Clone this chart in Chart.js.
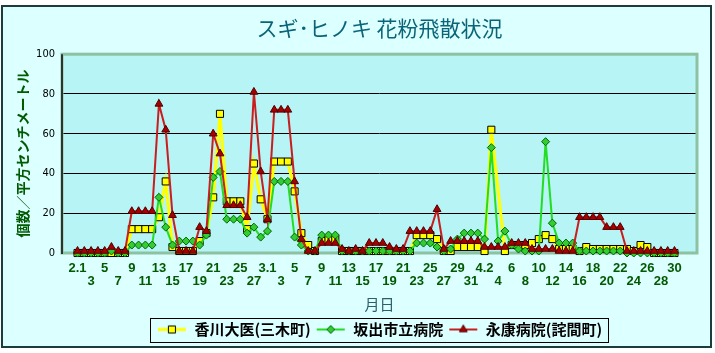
<!DOCTYPE html>
<html lang="ja">
<head>
<meta charset="utf-8">
<title>スギ･ヒノキ 花粉飛散状況</title>
<script src="https://cdn.jsdelivr.net/npm/chart.js@4.4.1/dist/chart.umd.min.js"></script>
<style>
  html, body { margin: 0; padding: 0; background: #fff; }
  #wrap { width: 715px; height: 353px; }
</style>
</head>
<body>
<div id="wrap"><canvas id="pollenChart" width="715" height="353"></canvas></div>
<script>
// --- Data (one value per day, 2/1 .. 4/30) ---
// x-axis labels, one for every second day (alternating upper / lower row)
const tickLabels = [
    '2.1', '3', '5', '7', '9', '11', '13', '15', '17', '19', '21', '23', '25', '27',
    '3.1', '3', '5', '7', '9', '11', '13', '15', '17', '19', '21', '23', '25', '27', '29', '31',
    '4.2', '4', '6', '8', '10', '12', '14', '16', '18', '20', '22', '24', '26', '28', '30'
];

const seriesNames = ['香川大医(三木町)', '坂出市立病院', '永康病院(詫間町)'];

// 香川大医(三木町)
const kagawaValues = [
    0, 0, 0, 0, 0, 0, 0, 0, 12, 12, 12, 12, 18, 36, 3, 1, 1, 1, 6, 10,
    28, 70, 26, 26, 26, 12, 45, 27, 17, 46, 46, 46, 31, 10, 4, 1, 6, 7, 7, 1,
    1, 1, 1, 1, 1, 1, 1, 1, 1, 1, 9, 9, 9, 7, 1, 1, 3, 3, 3, 3,
    1, 62, null, 1, 4, 4, 4, 5, 7, 9, 7, 2, 2, 2, 1, 3, 2, 2, 2, 2,
    2, 2, 1, 4, 3, 0, 0, 0, 0
];

// 坂出市立病院
const sakaideValues = [
    0, 0, 0, 0, 0, 1, 0, 0, 4, 4, 4, 4, 28, 13, 4, 6, 6, 6, 4, 9,
    38, 41, 17, 17, 17, 10, 13, 8, 11, 36, 36, 36, 8, 4, 1, 1, 9, 9, 9, 1,
    1, 1, 1, 1, 1, 1, 1, 1, 1, 1, 5, 5, 5, 3, 1, 2, 7, 10, 10, 10,
    7, 53, 6, 11, 4, 2, 1, 1, 1, 56, 15, 5, 5, 5, 1, 1, 1, 1, 1, 1,
    1, 0, 0, 0, 0, 0, 0, 0, 0
];

// 永康病院(詫間町)
const eikoValues = [
    1, 1, 1, 1, 1, 3, 1, 1, 21, 21, 21, 21, 75, 62, 19, 1, 1, 1, 13, 11,
    60, 50, 24, 24, 24, 18, 81, 41, 17, 72, 72, 72, 36, 7, 1, 1, 5, 5, 5, 2,
    1, 2, 1, 5, 5, 5, 3, 2, 2, 11, 11, 11, 11, 22, 2, 6, 6, 6, 6, 6,
    3, 3, 3, 3, 5, 5, 5, 2, 2, 2, 2, 1, 1, 1, 18, 18, 18, 18, 13, 13,
    13, 1, 1, 1, 1, 1, 1, 1, 1
];

// --- Colours ---
const YELLOW = '#ffff00';
const GREEN_LINE = '#22dd22';
const GREEN_FILL = '#33cc33';
const RED_LINE = '#c81e1e';
const RED_FILL = '#a80000';
const TICK_GREEN = '#005a00';
const TITLE_TEAL = '#0a6478';

const toPoints = values => values.map((v, i) => ({ x: i, y: v }));

/**
 * Small line-with-marker picture used as the legend symbol.
 */
function legendSymbol(lineColor, lineWidth, pointStyle, radius, fill, stroke) {
    const c = document.createElement('canvas');
    c.width = 30;
    c.height = 14;
    const g = c.getContext('2d');
    g.strokeStyle = lineColor;
    g.lineWidth = lineWidth;
    g.beginPath();
    g.moveTo(1, 7);
    g.lineTo(29, 7);
    g.stroke();
    g.fillStyle = fill;
    g.strokeStyle = stroke;
    g.lineWidth = 1;
    Chart.helpers.drawPoint(g, { pointStyle, radius, rotation: 0, borderWidth: 1 }, 15, 7);
    return c;
}

const legendSymbols = [
    legendSymbol(YELLOW, 3, 'rect', 5, YELLOW, '#000000'),
    legendSymbol(GREEN_LINE, 2, 'rectRot', 4, GREEN_FILL, '#006600'),
    legendSymbol(RED_LINE, 2, 'triangle', 4.5, RED_FILL, '#500000')
];

// --- Background, plot frame and legend box ---
const framePlugin = {
    id: 'frame',
    beforeDraw(chart) {
        const { ctx, width, height, chartArea: a } = chart;
        ctx.save();
        ctx.fillStyle = '#ffffff';
        ctx.fillRect(0, 0, width, height);
        ctx.fillStyle = '#dcffff';
        ctx.fillRect(2, 6, 709, 341);
        ctx.strokeStyle = '#1d3d3d';
        ctx.lineWidth = 2;
        ctx.strokeRect(2, 6, 709, 341);
        ctx.fillStyle = '#b6f4f6';
        ctx.fillRect(a.left, a.top, a.right - a.left, a.bottom - a.top);
        ctx.restore();
    },
    beforeDatasetsDraw(chart) {
        const { ctx, chartArea: a } = chart;
        ctx.save();
        ctx.strokeStyle = '#8cc2a2';
        ctx.lineWidth = 3;
        ctx.strokeRect(a.left, a.top, a.right - a.left, a.bottom - a.top);
        ctx.strokeStyle = '#303030';
        ctx.lineWidth = 2;
        ctx.beginPath();
        ctx.moveTo(a.left, a.top);
        ctx.lineTo(a.left, a.bottom + 1);
        ctx.stroke();
        ctx.restore();
    },
    afterDraw(chart) {
        const boxes = chart.legend && chart.legend.legendHitBoxes;
        if (!boxes || !boxes.length) return;
        const left = Math.min(...boxes.map(b => b.left)) - 7;
        const right = Math.max(...boxes.map(b => b.left + b.width)) + 6;
        const mid = boxes[0].top + boxes[0].height / 2;
        const ctx = chart.ctx;
        ctx.save();
        ctx.strokeStyle = '#000000';
        ctx.lineWidth = 1;
        ctx.strokeRect(Math.round(left) + 0.5, Math.round(mid - 12) + 0.5, Math.round(right - left), 24);
        ctx.restore();
    }
};

// --- Chart ---
const ctx = document.getElementById('pollenChart').getContext('2d');
new Chart(ctx, {
    type: 'line',
    data: {
        datasets: [
            {
                label: seriesNames[0],
                data: toPoints(kagawaValues),
                borderColor: YELLOW,
                borderWidth: 3,
                pointStyle: 'rect',
                pointRadius: 5,
                pointBackgroundColor: YELLOW,
                pointBorderColor: '#000000',
                pointBorderWidth: 1,
                spanGaps: true,
                order: 3
            },
            {
                label: seriesNames[1],
                data: toPoints(sakaideValues),
                borderColor: GREEN_LINE,
                borderWidth: 2,
                pointStyle: 'rectRot',
                pointRadius: 4,
                pointBackgroundColor: GREEN_FILL,
                pointBorderColor: '#006600',
                pointBorderWidth: 1,
                order: 2
            },
            {
                label: seriesNames[2],
                data: toPoints(eikoValues),
                borderColor: RED_LINE,
                borderWidth: 2,
                pointStyle: 'triangle',
                pointRadius: 4.5,
                pointBackgroundColor: RED_FILL,
                pointBorderColor: '#500000',
                pointBorderWidth: 1,
                order: 1
            }
        ]
    },
    options: {
        responsive: false,
        animation: false,
        events: [],
        clip: false,
        elements: { line: { tension: 0 } },
        layout: { padding: { left: 0, right: 18, top: 0, bottom: 6 } },
        scales: {
            x: {
                type: 'linear',
                min: -2.29,
                max: 91.32,
                grid: { display: false, drawTicks: false },
                border: { display: false },
                afterBuildTicks: scale => {
                    scale.ticks = tickLabels.map((_, k) => ({ value: k * 2 }));
                },
                afterFit: scale => { scale.height = 64; },
                ticks: {
                    autoSkip: false,
                    maxRotation: 0,
                    padding: 9,
                    color: TICK_GREEN,
                    font: { family: "'Liberation Sans', Arial, sans-serif", size: 13, weight: 'bold', lineHeight: 1 },
                    callback: value => {
                        const k = Math.round(value / 2);
                        const text = tickLabels[k];
                        return k % 2 === 0 ? [text, ''] : ['', text];
                    }
                },
                title: {
                    display: true,
                    text: '月日',
                    color: '#2b5f6b',
                    font: { family: "'Noto Sans CJK JP', sans-serif", size: 15 },
                    padding: { top: 0, bottom: 4 }
                }
            },
            y: {
                min: 0,
                max: 100,
                afterFit: scale => { scale.width = 62; },
                grid: { color: '#000000', lineWidth: 1, drawTicks: false },
                border: { display: false },
                ticks: {
                    stepSize: 20,
                    padding: 7,
                    color: '#000000',
                    font: { family: "'Liberation Sans Narrow', 'DejaVu Sans Condensed', sans-serif", size: 11 }
                },
                title: {
                    display: true,
                    text: '個数／平方センチメートル',
                    color: TICK_GREEN,
                    font: { family: "'Noto Sans CJK JP', sans-serif", size: 14, weight: 'bold' },
                    padding: { top: 14, bottom: 0 }
                }
            }
        },
        plugins: {
            title: {
                display: true,
                fullSize: false,
                text: 'スギ･ヒノキ 花粉飛散状況',
                color: TITLE_TEAL,
                font: { family: "'Noto Sans CJK JP', sans-serif", size: 21, weight: 'normal' },
                padding: { top: 15, bottom: 14 }
            },
            legend: {
                position: 'bottom',
                fullSize: false,
                labels: {
                    usePointStyle: true,
                    pointStyleWidth: 30,
                    padding: 5,
                    color: '#000000',
                    font: { family: "'Noto Sans CJK JP', sans-serif", size: 15, weight: 'bold' },
                    sort: (a, b) => a.datasetIndex - b.datasetIndex,
                    generateLabels: chart => {
                        const items = Chart.defaults.plugins.legend.labels.generateLabels(chart);
                        items.forEach(item => { item.pointStyle = legendSymbols[item.datasetIndex]; });
                        return items;
                    }
                }
            },
            tooltip: { enabled: false }
        }
    },
    plugins: [framePlugin]
});
</script>
</body>
</html>
